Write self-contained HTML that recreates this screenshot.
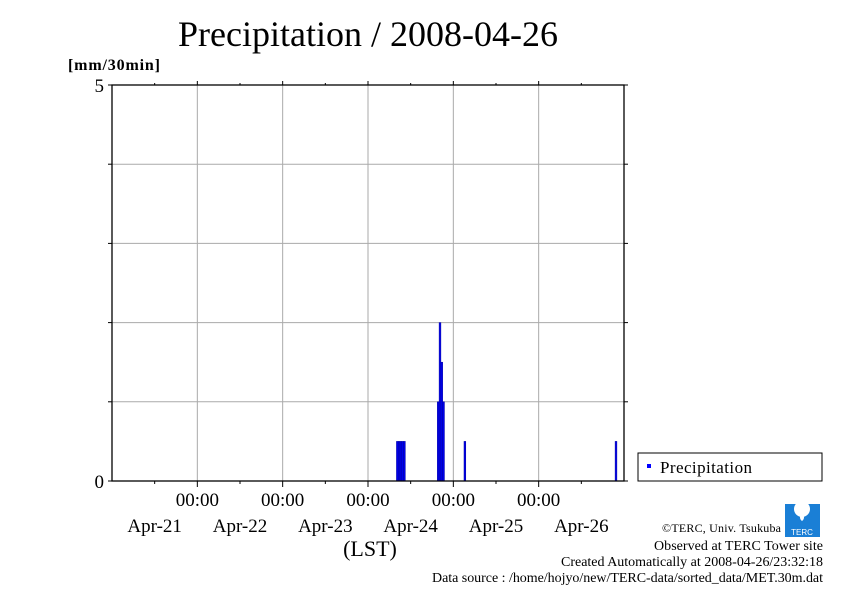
<!DOCTYPE html>
<html><head><meta charset="utf-8"><style>
body{margin:0;background:#fff;width:842px;height:595px;overflow:hidden}
svg text{font-family:"Liberation Serif",serif;fill:#000}
</style></head><body>
<svg width="842" height="595">
<text x="368" y="46" font-size="36" text-anchor="middle" textLength="380">Precipitation / 2008-04-26</text>
<text x="68" y="70" font-size="16" textLength="92" font-weight="bold">[mm/30min]</text>
<g id="grid"></g>
<g id="bars"></g>
<g id="axes"></g>
<rect x="638" y="453" width="184" height="28" fill="#fff" stroke="#000" stroke-width="1"/>
<rect x="647" y="464" width="4" height="4" fill="#0000ff"/>
<text x="660" y="473" font-size="17" textLength="92">Precipitation</text>
<text x="370" y="556" font-size="22" text-anchor="middle">(LST)</text>
<text x="781" y="532" font-size="12" text-anchor="end" textLength="119">©TERC, Univ. Tsukuba</text>
<g>
<rect x="785" y="504" width="35" height="33" fill="#1a7fd6"/>
<circle cx="802" cy="509" r="8" fill="#fff"/>
<path d="M802 512 q-4 6 0 9 q4 -3 0 -9z" fill="#fff"/>
<text x="802" y="535" font-size="8" text-anchor="middle" style="fill:#fff;font-family:'Liberation Sans',sans-serif">TERC</text>
</g>
<text x="823" y="550" font-size="14" text-anchor="end" textLength="169">Observed at TERC Tower site</text>
<text x="823" y="566" font-size="14" text-anchor="end" textLength="262">Created Automatically at 2008-04-26/23:32:18</text>
<text x="823" y="582" font-size="14" text-anchor="end" textLength="391">Data source : /home/hojyo/new/TERC-data/sorted_data/MET.30m.dat</text>
</svg>
<script>
// half-hour slot index from 2008-04-21 00:00 (288 slots over 6 days)
const slotIndex = [160,161,162,163,164,183,184,185,186,198,283];
const precipValues = [0.5,0.5,0.5,0.5,0.5,1.0,2.0,1.5,1.0,0.5,0.5];
const yTicks = [0,1,2,3,4,5];
const yTickLabels = ["0","","","","","5"];
const dayLabels = ["Apr-21","Apr-22","Apr-23","Apr-24","Apr-25","Apr-26"];

const NS="http://www.w3.org/2000/svg";
const X0=112,X1=624,Y0=481,Y1=85,NSLOT=288,YMAX=5;
const xs=i=>X0+(X1-X0)*i/NSLOT;
const ys=v=>Y0-(Y0-Y1)*v/YMAX;
function mk(tag,attrs,parent){const e=document.createElementNS(NS,tag);for(const k in attrs)e.setAttribute(k,attrs[k]);document.getElementById(parent).appendChild(e);return e;}

for(let d=1;d<6;d++){
  const l=mk('line',{x1:xs(d*48),x2:xs(d*48),y1:Y1,y2:Y0,stroke:'#aaa','stroke-width':1},'grid');
  
  
}
yTicks.forEach(v=>{ if(v>0&&v<YMAX){
  const l=mk('line',{x1:X0,x2:X1,y1:ys(v),y2:ys(v),stroke:'#aaa','stroke-width':1},'grid');
  
  
}});
slotIndex.forEach((s,i)=>{
  const x=xs(s),w=xs(s+1)-xs(s),y=ys(precipValues[i]);
  const r=mk('rect',{x:x,y:y,width:w,height:Y0-y,fill:'#0000ee',stroke:'#0000a0','stroke-width':0.5},'bars');
  
  
});
const f=mk('rect',{x:X0,y:Y1,width:X1-X0,height:Y0-Y1,fill:'none',stroke:'#000','stroke-width':1.3},'axes');


yTicks.forEach((v,i)=>{
  const t=mk('line',{x1:X0-4,x2:X0,y1:ys(v),y2:ys(v),stroke:'#000'},'axes');
  
  
  const t2=mk('line',{x1:X1,x2:X1+4,y1:ys(v),y2:ys(v),stroke:'#000'},'axes');
  
  
  if(yTickLabels[i]){
    const tx=mk('text',{x:X0-8,y:ys(v)+7,'font-size':19,'text-anchor':'end'},'axes');
    tx.textContent=yTickLabels[i];
    
    
  }
});
for(let h=1;h<12;h++){
  const x=xs(h*24),major=h%2===0;
  const t=mk('line',{x1:x,x2:x,y1:Y0,y2:Y0+(major?6:3),stroke:'#000'},'axes');
  
  
  const t2=mk('line',{x1:x,x2:x,y1:Y1,y2:Y1-(major?4:2),stroke:'#000'},'axes');
  
  
}
for(let d=1;d<6;d++){
  const tx=mk('text',{x:xs(d*48),y:506,'font-size':19,'text-anchor':'middle'},'axes');
  tx.textContent='00:00';
  
  
}
dayLabels.forEach((lab,i)=>{
  const tx=mk('text',{x:xs(i*48+24),y:532,'font-size':19,'text-anchor':'middle'},'axes');
  tx.textContent=lab;
  
  
});
</script>
</body></html>
